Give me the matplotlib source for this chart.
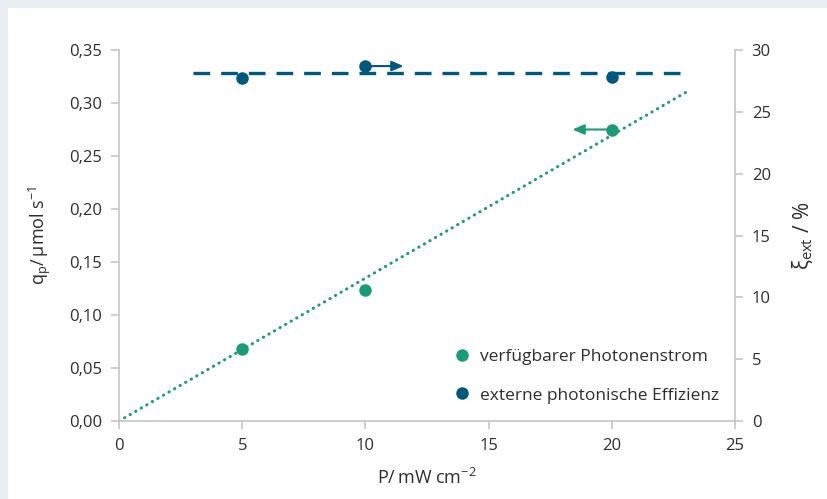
import matplotlib.pyplot as plt
from matplotlib.patches import Rectangle
from matplotlib.lines import Line2D

plt.rcParams['font.family'] = ['Open Sans', 'DejaVu Sans']
plt.rcParams['mathtext.fontset'] = 'custom'
plt.rcParams['mathtext.rm'] = 'Open Sans'
plt.rcParams['mathtext.it'] = 'Open Sans:italic'

green = '#1b9c78'
blue = '#00597c'
grey = '#c6c6c6'
text_col = '#2e2e2e'

# data
power = [5, 10, 20]
photon_flux = [0.068, 0.124, 0.275]        # left axis, umol/s
efficiency = [27.7, 28.7, 27.8]           # right axis, %
fit_x = [0, 23]
fit_y = [0.0, 0.31]
eff_line_x = [3, 23]
eff_line_y = [28.15, 28.15]

fig = plt.figure(figsize=(8.28, 4.99), dpi=100)
fig.patch.set_facecolor('#e9eef2')
fig.patches.append(Rectangle((8 / 828, 0), 1, 1 - 8 / 499, transform=fig.transFigure,
                             facecolor='white', edgecolor='none', zorder=-5))

ax = fig.add_axes([0.1437, 0.1563, 0.7440, 0.7435])
ax2 = ax.twinx()
ax.set_zorder(ax2.get_zorder() + 1)
ax.patch.set_visible(False)
ax2.patch.set_visible(False)

ax.plot(fit_x, fit_y, color=green, lw=2.2, ls=(0, (0.1, 2.0)), dash_capstyle='round')
ax.plot(power, photon_flux, 'o', color=green, ms=9, mec='none')
ax2.plot(eff_line_x, eff_line_y, color=blue, lw=2.4, ls=(0, (5.0, 3.3)))
ax2.plot(power, efficiency, 'o', color=blue, ms=9, mec='none')

# arrows to show which axis each series belongs to
ax.annotate('', xy=(18.4, photon_flux[2]), xytext=(power[2], photon_flux[2]),
            arrowprops=dict(arrowstyle='-|>,head_length=0.7,head_width=0.3',
                            color=green, lw=1.5, shrinkA=0, shrinkB=0))
ax2.annotate('', xy=(11.55, efficiency[1]), xytext=(power[1], efficiency[1]),
             arrowprops=dict(arrowstyle='-|>,head_length=0.7,head_width=0.3',
                             color=blue, lw=1.5, shrinkA=0, shrinkB=0))

ax.set_xlim(0, 25)
ax.set_ylim(0, 0.35)
ax2.set_ylim(0, 30)
ax.set_xticks([0, 5, 10, 15, 20, 25])
yt = [i * 0.05 for i in range(8)]
ax.set_yticks(yt)
ax.set_yticklabels([('%.2f' % v).replace('.', ',') for v in yt])
ax2.set_yticks(range(0, 31, 5))

for a in (ax, ax2):
    for s in a.spines.values():
        s.set_color(grey)
        s.set_linewidth(1.2)
    a.spines['top'].set_visible(False)
    a.tick_params(colors=grey, labelcolor=text_col, labelsize=12, length=6, width=1.2, pad=6)
ax.spines['right'].set_visible(False)
ax2.spines['left'].set_visible(False)
ax2.spines['bottom'].set_visible(False)

ax.set_xlabel('P/\u2009mW cm$^{-2}$', fontsize=13, color=text_col, labelpad=10)
ax.set_ylabel('q$_\\mathrm{p}$/\u2009µmol s$^{-1}$', fontsize=13, color=text_col, labelpad=12)
ax2.set_ylabel('ξ$_\\mathrm{ext}$ / %', fontsize=15, color=text_col, labelpad=14)

handles = [Line2D([], [], ls='none', marker='o', color=green, ms=9, mec='none'),
           Line2D([], [], ls='none', marker='o', color=blue, ms=9, mec='none')]
ax.legend(handles, ['verfügbarer Photonenstrom', 'externe photonische Effizienz'],
          loc='lower right', bbox_to_anchor=(1.0, 0.005), frameon=False, fontsize=12.5,
          handletextpad=0.05, labelspacing=1.3, labelcolor=text_col)

fig.savefig('out.png', dpi=100, facecolor=fig.get_facecolor())
